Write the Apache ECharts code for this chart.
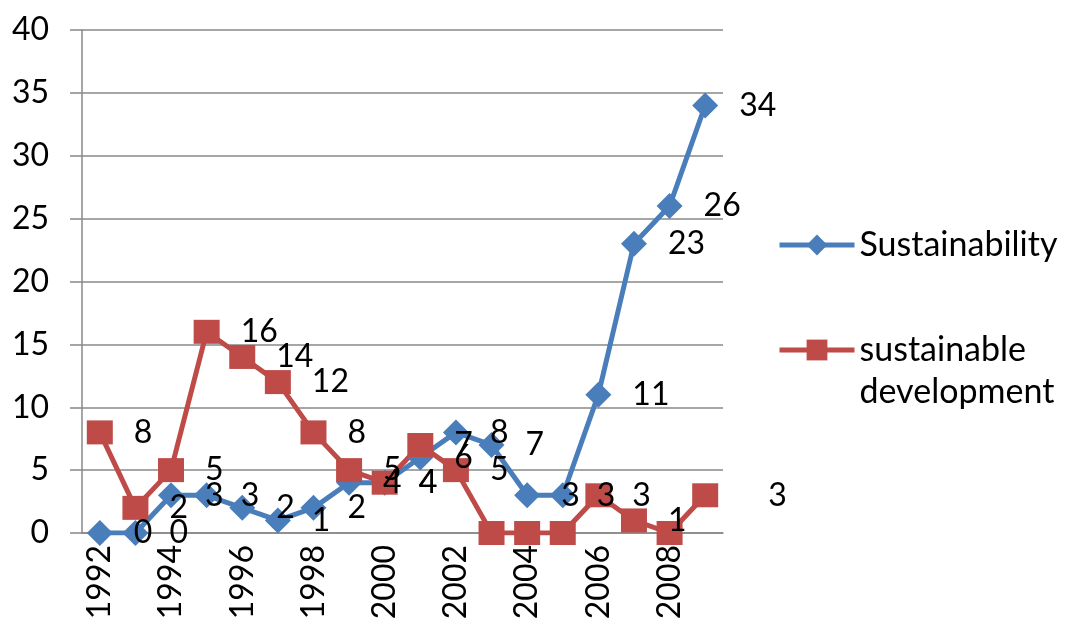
<!DOCTYPE html>
<html>
<head>
<meta charset="utf-8">
<script src="https://cdn.jsdelivr.net/npm/echarts@6/dist/echarts.min.js"></script>
<style>
  html, body { margin: 0; padding: 0; background: #fff; }
  #chart { width: 1065px; height: 626px; }
</style>
</head>
<body>
<div id="chart"></div>
<script>
// Publication counts per year
const years = ['1992','1993','1994','1995','1996','1997','1998','1999','2000',
               '2001','2002','2003','2004','2005','2006','2007','2008','2009'];
const sustainability = [0, 0, 3, 3, 2, 1, 2, 4, 4, 6, 8, 7, 3, 3, 11, 23, 26, 34];
const sustainableDevelopment = [8, 2, 5, 16, 14, 12, 8, 5, 4, 7, 5, 0, 0, 0, 3, 1, 0, 3];
const yTicks = [0, 5, 10, 15, 20, 25, 30, 35, 40];

const FONT = 'Lato';
const BLUE = '#4A7EBB';
const RED = '#BE4B48';
const GRID = '#888';

const chart = echarts.init(document.getElementById('chart'), null, { renderer: 'canvas' });

// the last red point's label sits further out to the right
const devData = sustainableDevelopment.map((v, i) =>
  i === sustainableDevelopment.length - 1 ? { value: v, label: { distance: 50 } } : v);

chart.setOption({
  animation: false,
  backgroundColor: '#fff',
  grid: { left: 82, right: 342, top: 30, bottom: 93, containLabel: false },
  legend: {
    orient: 'vertical',
    left: 777,
    top: 224,
    itemWidth: 75,
    itemHeight: 26,
    itemGap: 21,
    padding: 0,
    selectedMode: false,
    lineStyle: { width: 5 },
    textStyle: { fontFamily: FONT, fontSize: 34, color: '#000', lineHeight: 42 },
    // the two-word name wraps; the leading blank line keeps the icon beside the first line
    formatter: name => name === 'sustainable development' ? '\nsustainable\ndevelopment' : name,
    data: ['Sustainability', 'sustainable development']
  },
  xAxis: {
    type: 'category',
    data: years,
    boundaryGap: true,
    axisLine: { lineStyle: { color: GRID, width: 1.5 } },
    axisTick: { interval: 1, length: 12, lineStyle: { color: GRID, width: 1.5 } },
    axisLabel: {
      interval: 1, rotate: 90, margin: 12,
      fontFamily: FONT, fontSize: 32, color: '#000'
    },
    splitLine: { show: false }
  },
  yAxis: {
    type: 'value',
    min: yTicks[0],
    max: yTicks[yTicks.length - 1],
    interval: 5,
    axisLine: { show: true, lineStyle: { color: GRID, width: 1.5 } },
    axisTick: { show: true, length: 12, lineStyle: { color: GRID, width: 1.5 } },
    axisLabel: { margin: 33, fontFamily: FONT, fontSize: 32, color: '#000' },
    splitLine: { lineStyle: { color: GRID, width: 1.5 } }
  },
  series: [
    {
      name: 'Sustainability',
      type: 'line',
      data: sustainability,
      symbol: 'diamond',
      symbolSize: 26,
      showSymbol: true,
      showAllSymbol: true,
      itemStyle: { color: BLUE },
      lineStyle: { color: BLUE, width: 5 },
      label: {
        show: true, position: 'right', distance: 21,
        fontFamily: FONT, fontSize: 32, color: '#000'
      }
    },
    {
      name: 'sustainable development',
      type: 'line',
      data: devData,
      symbol: 'rect',
      symbolSize: [26, 24],
      showSymbol: true,
      showAllSymbol: true,
      itemStyle: { color: RED },
      lineStyle: { color: RED, width: 5 },
      label: {
        show: true, position: 'right', distance: 21,
        fontFamily: FONT, fontSize: 32, color: '#000',
        formatter: p => (p.value === 0 ? '' : String(p.value))
      }
    }
  ]
});
</script>
</body>
</html>
